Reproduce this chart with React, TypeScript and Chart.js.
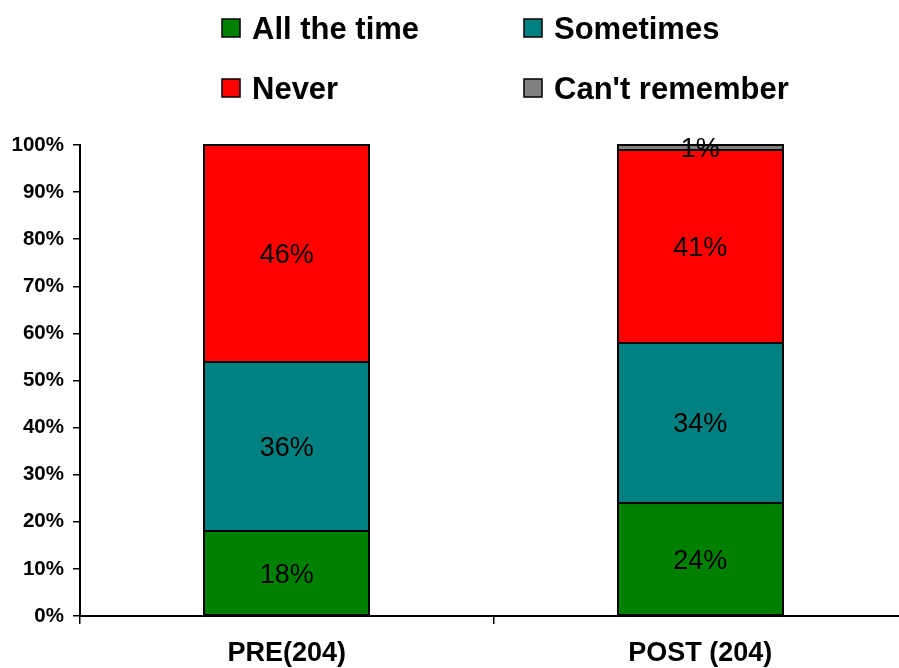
import { useEffect, useRef } from "react";
import { Chart, registerables } from "chart.js";

Chart.register(...registerables);

// Survey responses, percent of respondents per group
const categories = ["PRE(204)", "POST (204)"];
const allTheTime = [18, 24];
const sometimes = [36, 34];
const never = [46, 41];
const cantRemember = [null, 1];

const seriesLabels = ["All the time", "Sometimes", "Never", "Can't remember"];
const seriesColors = ["#008000", "#008080", "#FF0000", "#808080"];

const FONT = "'Liberation Sans', Arial, Helvetica, sans-serif";

// Two-column legend drawn above the plot
const gridLegend = {
  id: "gridLegend",
  afterDraw(chart: any) {
    const ctx = chart.ctx as CanvasRenderingContext2D;
    const cols = [222, 524];
    const rows = [28, 88];
    chart.data.datasets.forEach((ds: any, i: number) => {
      const x = cols[i % 2];
      const y = rows[Math.floor(i / 2)];
      ctx.save();
      ctx.fillStyle = ds.backgroundColor;
      ctx.fillRect(x, y - 9, 18, 18);
      ctx.lineWidth = 1.5;
      ctx.strokeStyle = "#000";
      ctx.strokeRect(x, y - 9, 18, 18);
      ctx.fillStyle = "#000";
      ctx.font = `bold 31px ${FONT}`;
      ctx.textAlign = "left";
      ctx.textBaseline = "alphabetic";
      ctx.fillText(ds.label, x + 30, y + 11);
      ctx.restore();
    });
  },
};

// Segment outlines centred on each edge, then percentage labels in the middle
const segmentLabels = {
  id: "segmentLabels",
  afterDatasetsDraw(chart: any) {
    const ctx = chart.ctx as CanvasRenderingContext2D;
    chart.data.datasets.forEach((ds: any, di: number) => {
      const meta = chart.getDatasetMeta(di);
      meta.data.forEach((el: any, i: number) => {
        const v = ds.data[i];
        if (v == null || v === 0) return;
        const left = Math.round(el.x - el.width / 2);
        const right = Math.round(el.x + el.width / 2);
        const top = Math.round(Math.min(el.y, el.base));
        const bottom = Math.round(Math.max(el.y, el.base));
        ctx.save();
        ctx.lineWidth = 2;
        ctx.strokeStyle = "#000";
        ctx.strokeRect(left, top, right - left, bottom - top);
        ctx.restore();
      });
    });
    chart.data.datasets.forEach((ds: any, di: number) => {
      const meta = chart.getDatasetMeta(di);
      meta.data.forEach((el: any, i: number) => {
        const v = ds.data[i];
        if (v == null || v === 0) return;
        ctx.save();
        ctx.fillStyle = "#000";
        ctx.font = `27px ${FONT}`;
        ctx.textAlign = "center";
        ctx.textBaseline = "middle";
        ctx.fillText(`${v}%`, el.x, (el.y + el.base) / 2 + 2);
        ctx.restore();
      });
    });
  },
};

export default function App() {
  const ref = useRef<HTMLCanvasElement | null>(null);

  useEffect(() => {
    if (!ref.current) return;
    const series = [allTheTime, sometimes, never, cantRemember];
    const chart = new Chart(ref.current, {
      type: "bar",
      data: {
        labels: categories,
        datasets: series.map((data, i) => ({
          label: seriesLabels[i],
          data: data as any,
          backgroundColor: seriesColors[i],
          borderWidth: 0,
          barPercentage: 0.4,
          categoryPercentage: 1,
        })),
      },
      options: {
        responsive: false,
        animation: false,
        devicePixelRatio: 1,
        layout: { padding: { top: 145, left: 0, right: 0, bottom: 0 } },
        plugins: {
          legend: { display: false },
          tooltip: { enabled: false },
        },
        scales: {
          x: {
            stacked: true,
            grid: {
              offset: true,
              drawOnChartArea: false,
              drawTicks: true,
              tickLength: 8,
              color: "#000",
              lineWidth: 1.5,
            },
            border: { display: true, color: "#000", width: 2 },
            ticks: {
              color: "#000",
              padding: 13,
              font: { family: FONT, size: 27, weight: "bold" },
            },
            afterFit(scale: any) {
              scale.height = 52;
            },
          },
          y: {
            stacked: true,
            min: 0,
            max: 100,
            grid: {
              drawOnChartArea: false,
              drawTicks: true,
              tickLength: 7,
              color: "#000",
              lineWidth: 1.5,
            },
            border: { display: true, color: "#000", width: 2 },
            ticks: {
              stepSize: 10,
              color: "#000",
              padding: 9,
              font: { family: FONT, size: 20.5, weight: "bold" },
              callback: (v: any) => `${v}%`,
            },
            afterFit(scale: any) {
              scale.width = 80;
            },
          },
        },
      },
      plugins: [gridLegend, segmentLabels],
    });
    return () => chart.destroy();
  }, []);

  return (
    <div
      style={{
        position: "fixed",
        left: 0,
        top: 0,
        width: 899,
        height: 668,
        overflow: "hidden",
        background: "#fff",
      }}
    >
      <canvas ref={ref} width={907} height={668} style={{ width: 907, height: 668, display: "block" }} />
    </div>
  );
}
